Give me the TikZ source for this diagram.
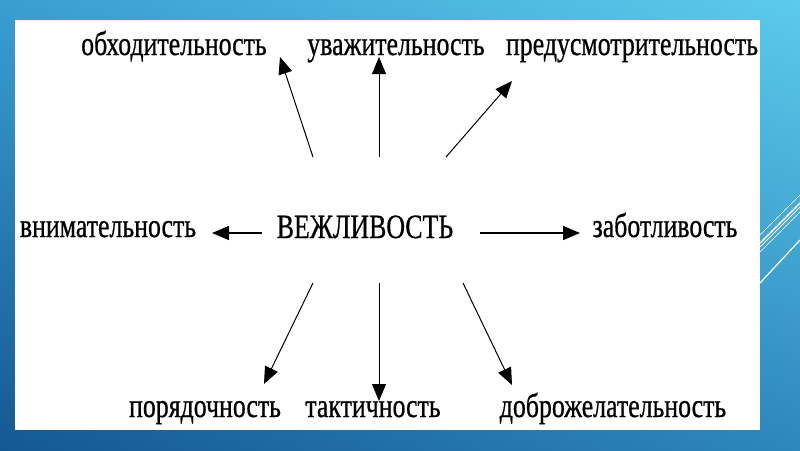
\documentclass[tikz,border=0pt]{standalone}
\usepackage{fontspec}
\setmainfont{Liberation Serif}
\newfontfamily\lblfont[FakeBold=0.8]{Liberation Serif}
\usetikzlibrary{arrows.meta,shadings}
\definecolor{bgUL}{HTML}{3A9ED2}
\definecolor{bgUR}{HTML}{5CCBEB}
\definecolor{bgLL}{HTML}{145892}
\definecolor{bgLR}{HTML}{2E86BE}
\newcommand{\sqz}[1]{\scalebox{0.76}[1]{#1}}
\tikzset{
  lbl/.style={font=\lblfont\fontsize{34}{34}\selectfont, inner sep=0pt, anchor=base},
  arr/.style={line width=1pt, -{Triangle[length=17pt,width=14pt]}},
  harr/.style={arr, line width=1.6pt},
  deco/.style={white, line width=#1},
}
\begin{document}
\begin{tikzpicture}[x=1pt,y=-1pt]
\useasboundingbox (0,0) rectangle (800,450);
\shade[upper left=bgUL, upper right=bgUR, lower left=bgLL, lower right=bgLR] (0,0) rectangle (800,450);
% decorative lines
\draw[deco=0.6pt] (760,235) -- (800,195);
\draw[deco=1.4pt] (760,243) -- (800,203);
\draw[deco=1pt] (760,247) -- (800,207);
\draw[deco=0.6pt] (760,252) -- (800,212);
\draw[deco=1.2pt] (760,283) -- (800,240);
% white panel
\fill[white] (15,20) rectangle (760,430);
% labels
\node[lbl] (c) at (365,238) {\sqz{ВЕЖЛИВОСТЬ}};
\node[lbl] (t1) at (174,55) {\sqz{обходительность}};
\node[lbl] (t2) at (396,55) {\sqz{уважительность}};
\node[lbl] (t3) at (632,55) {\sqz{предусмотрительность}};
\node[lbl] (l) at (108,237) {\sqz{внимательность}};
\node[lbl] (r) at (665,237) {\sqz{заботливость}};
\node[lbl] (b1) at (205,417) {\sqz{порядочность}};
\node[lbl] (b2) at (373,417) {\sqz{тактичность}};
\node[lbl] (b3) at (613,417) {\sqz{доброжелательность}};
% arrow end points
\coordinate (s1) at (313,157); \coordinate (e1) at (280,57);
\coordinate (s2) at (379,157); \coordinate (e2) at (379,57);
\coordinate (s3) at (446,157); \coordinate (e3) at (512,81);
\coordinate (sl) at (262,233); \coordinate (el) at (212,233);
\coordinate (sr) at (480,233); \coordinate (er) at (580,233);
\coordinate (s4) at (313,283); \coordinate (e4) at (264,384);
\coordinate (s5) at (379,283); \coordinate (e5) at (379,401);
\coordinate (s6) at (463,283); \coordinate (e6) at (512,385);
\draw[arr] (s1) -- (e1);
\draw[arr] (s2) -- (e2);
\draw[arr] (s3) -- (e3);
\draw[harr] (sl) -- (el);
\draw[harr] (sr) -- (er);
\draw[arr] (s4) -- (e4);
\draw[arr] (s5) -- (e5);
\draw[arr] (s6) -- (e6);
\end{tikzpicture}
\end{document}
